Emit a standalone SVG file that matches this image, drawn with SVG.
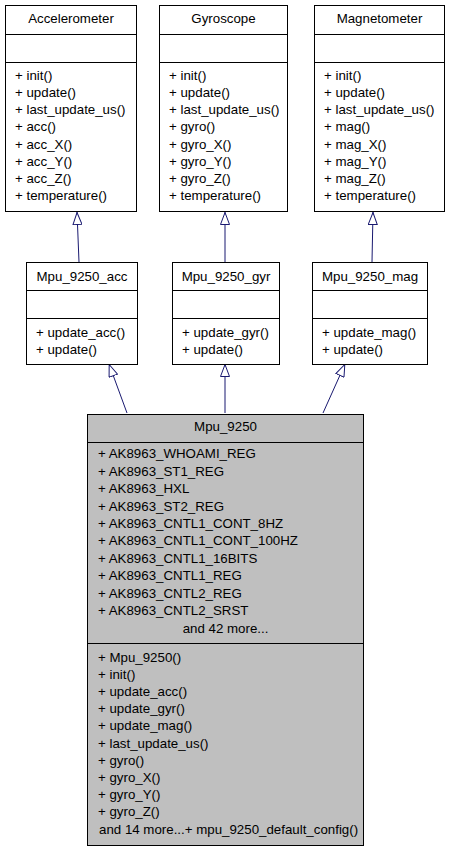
<svg xmlns="http://www.w3.org/2000/svg" width="451" height="851" viewBox="0 0 451 851">
<style>
text{font-family:"Liberation Sans",Arial,sans-serif;font-size:13.3px;fill:#000}
.t{text-anchor:middle}
.box{fill:#fff;stroke:#000;stroke-width:1}
.gray{fill:#bfbfbf;stroke:#000;stroke-width:1}
.sep{stroke:#000;stroke-width:1}
.edge{stroke:#191970;stroke-width:1;fill:none}
</style>
<defs>
<marker id="inh" viewBox="0 0 13 10" refX="13" refY="5" markerWidth="13" markerHeight="10" markerUnits="userSpaceOnUse" orient="auto">
<path d="M0.5,0.5 L12.5,5 L0.5,9.5 Z" fill="#fff" stroke="#191970" stroke-width="1"/>
</marker>
</defs>
<rect width="451" height="851" fill="#fff"/>
<g id="connectors">
<line class="edge" x1="79" y1="262" x2="77" y2="212" marker-end="url(#inh)"/>
<line class="edge" x1="225" y1="262" x2="225" y2="212" marker-end="url(#inh)"/>
<line class="edge" x1="372" y1="262" x2="373" y2="212" marker-end="url(#inh)"/>
<line class="edge" x1="127" y1="413" x2="109" y2="364" marker-end="url(#inh)"/>
<line class="edge" x1="225" y1="413" x2="225" y2="364" marker-end="url(#inh)"/>
<line class="edge" x1="323" y1="413" x2="345" y2="364" marker-end="url(#inh)"/>
</g>
<g id="Accelerometer">
<rect class="box" x="5.5" y="5.5" width="131" height="206"/>
<line class="sep" x1="5.5" y1="34.5" x2="136.5" y2="34.5"/>
<line class="sep" x1="5.5" y1="62.5" x2="136.5" y2="62.5"/>
<text class="t" x="71" y="23">Accelerometer</text>
<text x="15" y="80">+ init()</text>
<text x="15" y="97.1">+ update()</text>
<text x="15" y="114.3">+ last_update_us()</text>
<text x="15" y="131.4">+ acc()</text>
<text x="15" y="148.6">+ acc_X()</text>
<text x="15" y="165.7">+ acc_Y()</text>
<text x="15" y="182.9">+ acc_Z()</text>
<text x="15" y="200">+ temperature()</text>
</g>
<g id="Gyroscope">
<rect class="box" x="159.5" y="5.5" width="128" height="206"/>
<line class="sep" x1="159.5" y1="34.5" x2="287.5" y2="34.5"/>
<line class="sep" x1="159.5" y1="62.5" x2="287.5" y2="62.5"/>
<text class="t" x="223.5" y="23">Gyroscope</text>
<text x="169" y="80">+ init()</text>
<text x="169" y="97.1">+ update()</text>
<text x="169" y="114.3">+ last_update_us()</text>
<text x="169" y="131.4">+ gyro()</text>
<text x="169" y="148.6">+ gyro_X()</text>
<text x="169" y="165.7">+ gyro_Y()</text>
<text x="169" y="182.9">+ gyro_Z()</text>
<text x="169" y="200">+ temperature()</text>
</g>
<g id="Magnetometer">
<rect class="box" x="314.5" y="5.5" width="130" height="206"/>
<line class="sep" x1="314.5" y1="34.5" x2="444.5" y2="34.5"/>
<line class="sep" x1="314.5" y1="62.5" x2="444.5" y2="62.5"/>
<text class="t" x="379.5" y="23">Magnetometer</text>
<text x="324" y="80">+ init()</text>
<text x="324" y="97.1">+ update()</text>
<text x="324" y="114.3">+ last_update_us()</text>
<text x="324" y="131.4">+ mag()</text>
<text x="324" y="148.6">+ mag_X()</text>
<text x="324" y="165.7">+ mag_Y()</text>
<text x="324" y="182.9">+ mag_Z()</text>
<text x="324" y="200">+ temperature()</text>
</g>
<g id="Mpu_9250_acc">
<rect class="box" x="26.5" y="262.5" width="111" height="102"/>
<line class="sep" x1="26.5" y1="290.5" x2="137.5" y2="290.5"/>
<line class="sep" x1="26.5" y1="318.5" x2="137.5" y2="318.5"/>
<text class="t" x="82" y="281">Mpu_9250_acc</text>
<text x="36" y="336.5">+ update_acc()</text>
<text x="36" y="353.5">+ update()</text>
</g>
<g id="Mpu_9250_gyr">
<rect class="box" x="172.5" y="262.5" width="107" height="102"/>
<line class="sep" x1="172.5" y1="290.5" x2="279.5" y2="290.5"/>
<line class="sep" x1="172.5" y1="318.5" x2="279.5" y2="318.5"/>
<text class="t" x="226" y="281">Mpu_9250_gyr</text>
<text x="182" y="336.5">+ update_gyr()</text>
<text x="182" y="353.5">+ update()</text>
</g>
<g id="Mpu_9250_mag">
<rect class="box" x="312.5" y="262.5" width="115" height="102"/>
<line class="sep" x1="312.5" y1="290.5" x2="427.5" y2="290.5"/>
<line class="sep" x1="312.5" y1="318.5" x2="427.5" y2="318.5"/>
<text class="t" x="370" y="281">Mpu_9250_mag</text>
<text x="322" y="336.5">+ update_mag()</text>
<text x="322" y="353.5">+ update()</text>
</g>
<g id="Mpu_9250">
<rect class="gray" x="87.5" y="414.5" width="276" height="431"/>
<line class="sep" x1="87.5" y1="442.5" x2="363.5" y2="442.5"/>
<line class="sep" x1="87.5" y1="643.5" x2="363.5" y2="643.5"/>
<text class="t" x="225.5" y="431">Mpu_9250</text>
<text x="98" y="458.3">+ AK8963_WHOAMI_REG</text>
<text x="98" y="475.7">+ AK8963_ST1_REG</text>
<text x="98" y="493.1">+ AK8963_HXL</text>
<text x="98" y="510.5">+ AK8963_ST2_REG</text>
<text x="98" y="527.9">+ AK8963_CNTL1_CONT_8HZ</text>
<text x="98" y="545.3">+ AK8963_CNTL1_CONT_100HZ</text>
<text x="98" y="562.7">+ AK8963_CNTL1_16BITS</text>
<text x="98" y="580.1">+ AK8963_CNTL1_REG</text>
<text x="98" y="597.5">+ AK8963_CNTL2_REG</text>
<text x="98" y="614.9">+ AK8963_CNTL2_SRST</text>
<text class="t" x="225.5" y="632.5">and 42 more...</text>
<text x="98" y="661.5">+ Mpu_9250()</text>
<text x="98" y="678.7">+ init()</text>
<text x="98" y="695.9">+ update_acc()</text>
<text x="98" y="713.1">+ update_gyr()</text>
<text x="98" y="730.3">+ update_mag()</text>
<text x="98" y="747.5">+ last_update_us()</text>
<text x="98" y="764.7">+ gyro()</text>
<text x="98" y="781.9">+ gyro_X()</text>
<text x="98" y="799.1">+ gyro_Y()</text>
<text x="98" y="816.3">+ gyro_Z()</text>
<text x="99" y="833.5">and 14 more...+ mpu_9250_default_config()</text>
</g>
</svg>
